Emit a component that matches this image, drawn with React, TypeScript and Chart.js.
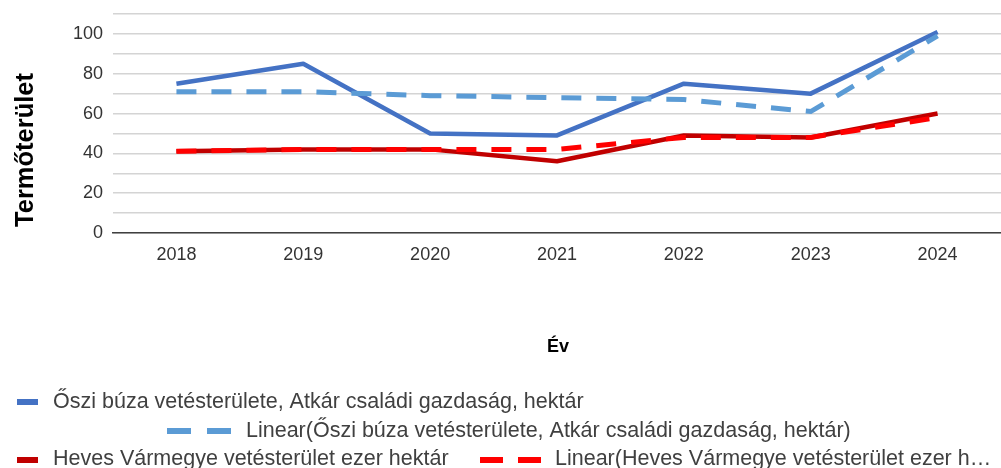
import React, { useEffect, useRef } from "react";
import { Chart, registerables } from "chart.js";

Chart.register(...registerables);

const years = ["2018", "2019", "2020", "2021", "2022", "2023", "2024"];
const buzaValues = [75, 85, 50, 49, 75, 70, 101];
const buzaTrend = [71, 71, 69, 68, 67, 61, 99];
const hevesValues = [41, 42, 42, 36, 49, 48, 60];
const hevesTrend = [41, 42, 42, 42, 48, 48, 58];
const seriesNames = [
  "Őszi búza vetésterülete, Atkár családi gazdaság, hektár",
  "Linear(Őszi búza vetésterülete, Atkár családi gazdaság, hektár)",
  "Heves Vármegye vetésterület ezer hektár",
  "Linear(Heves Vármegye vetésterület ezer h…",
];
const yAxisTitle = "Termőterület";
const xAxisTitle = "Év";

const FONT = '"Liberation Sans", Arial, sans-serif';
const COLORS = ["#4472C4", "#5B9BD5", "#C00000", "#FF0000"];

const textPlugin = {
  id: "customText",
  afterDraw(chart: any) {
    const ctx = chart.ctx as CanvasRenderingContext2D;
    ctx.save();
    ctx.font = `bold 25.5px ${FONT}`;
    ctx.fillStyle = "#000000";
    ctx.textAlign = "center";
    ctx.textBaseline = "alphabetic";
    ctx.translate(33, 150);
    ctx.rotate(-Math.PI / 2);
    ctx.fillText(yAxisTitle, 0, 0);
    ctx.restore();

    ctx.save();
    ctx.font = `bold 18px ${FONT}`;
    ctx.fillStyle = "#000000";
    ctx.textAlign = "center";
    ctx.textBaseline = "alphabetic";
    ctx.fillText(xAxisTitle, 558, 352);

    const items = [
      { x1: 17, x2: 38, y: 402, dash: [] as number[], w: 6, tx: 53, ty: 408 },
      { x1: 167, x2: 231, y: 431, dash: [24, 16], w: 6, tx: 246, ty: 437 },
      { x1: 17, x2: 38, y: 460, dash: [] as number[], w: 6, tx: 53, ty: 465 },
      { x1: 480, x2: 541, y: 460, dash: [23, 15], w: 6, tx: 555, ty: 465 },
    ];
    ctx.font = `21.5px ${FONT}`;
    ctx.textAlign = "left";
    items.forEach((it, i) => {
      ctx.beginPath();
      ctx.setLineDash(it.dash);
      ctx.lineCap = "butt";
      ctx.lineWidth = it.w;
      ctx.strokeStyle = COLORS[i];
      ctx.moveTo(it.x1, it.y);
      ctx.lineTo(it.x2, it.y);
      ctx.stroke();
      ctx.setLineDash([]);
      ctx.fillStyle = "#404040";
      ctx.fillText(seriesNames[i], it.tx, it.ty);
    });
    ctx.restore();
  },
};

export default function App() {
  const ref = useRef<HTMLCanvasElement | null>(null);

  useEffect(() => {
    if (!ref.current) return;
    const chart = new Chart(ref.current, {
      type: "line",
      data: {
        labels: years,
        datasets: [
          {
            label: seriesNames[0],
            data: buzaValues,
            borderColor: COLORS[0],
            backgroundColor: COLORS[0],
            borderWidth: 4.5,
            pointRadius: 0,
            tension: 0,
            borderJoinStyle: "round",
            order: 4,
          },
          {
            label: seriesNames[1],
            data: buzaTrend,
            borderColor: COLORS[1],
            backgroundColor: COLORS[1],
            borderWidth: 5,
            borderDash: [20, 15],
            borderCapStyle: "butt",
            pointRadius: 0,
            tension: 0,
            order: 2,
          },
          {
            label: seriesNames[2],
            data: hevesValues,
            borderColor: COLORS[2],
            backgroundColor: COLORS[2],
            borderWidth: 4.5,
            pointRadius: 0,
            tension: 0,
            borderJoinStyle: "round",
            order: 3,
          },
          {
            label: seriesNames[3],
            data: hevesTrend,
            borderColor: COLORS[3],
            backgroundColor: COLORS[3],
            borderWidth: 5,
            borderDash: [20, 15],
            borderCapStyle: "butt",
            pointRadius: 0,
            tension: 0,
            order: 1,
          },
        ],
      },
      options: {
        responsive: false,
        animation: false,
        devicePixelRatio: 1,
        layout: { padding: { top: 14, left: 0, right: 0, bottom: 0 } },
        plugins: {
          legend: { display: false },
          tooltip: { enabled: false },
        },
        scales: {
          x: {
            offset: true,
            grid: { display: false, drawTicks: false, offset: true },
            border: { display: true, color: "#404040", width: 1.5 },
            ticks: {
              color: "#333333",
              font: { family: FONT, size: 18 },
              padding: 11,
              maxRotation: 0,
            },
            afterFit: (scale: any) => {
              scale.height = 235;
            },
          },
          y: {
            min: 0,
            max: 110,
            grid: { color: "#d4d4d4", lineWidth: 1.5, drawTicks: false },
            border: { display: false },
            ticks: {
              stepSize: 10,
              autoSkip: false,
              color: "#333333",
              font: { family: FONT, size: 18 },
              padding: 10,
              callback: (v: any) => (Number(v) % 20 === 0 ? String(v) : ""),
            },
            afterFit: (scale: any) => {
              scale.width = 113;
              scale.paddingTop = 0;
            },
          },
        },
      },
      plugins: [textPlugin],
    });
    return () => chart.destroy();
  }, []);

  return (
    <div style={{ position: "fixed", left: 0, top: 0, width: 1001, height: 468, background: "#fff" }}>
      <canvas ref={ref} width={1001} height={468} style={{ width: 1001, height: 468, display: "block" }} />
    </div>
  );
}
